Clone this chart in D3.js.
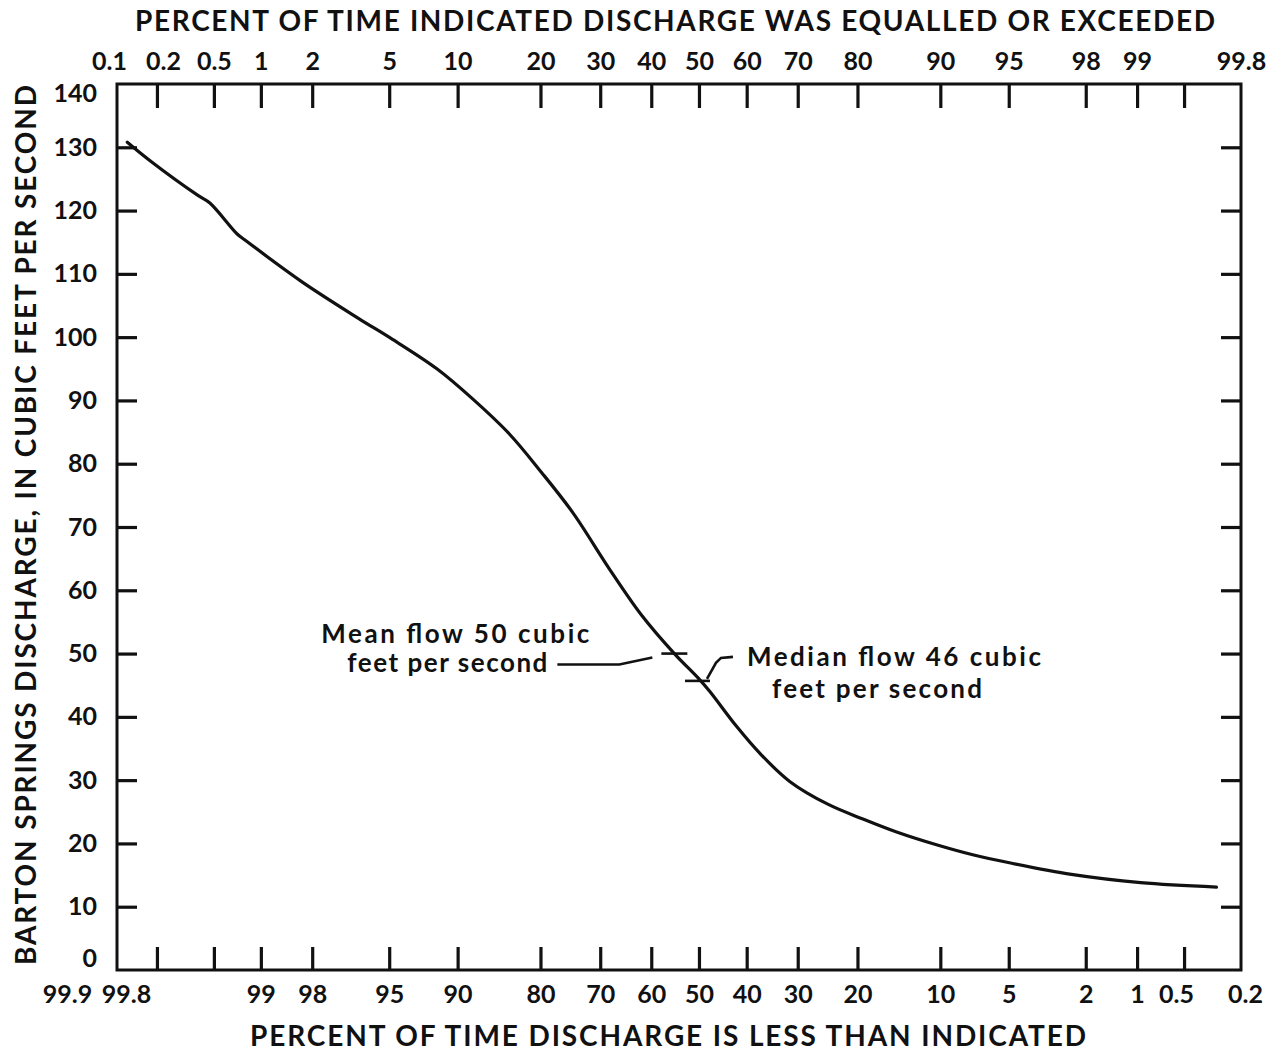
<!DOCTYPE html>
<html>
<head>
<meta charset="utf-8">
<script src="https://cdn.jsdelivr.net/npm/d3@7"></script>
<style>
  html, body { margin: 0; padding: 0; background: #fff; }
  svg { display: block; }
  text { font-family: Lato, "Liberation Sans", sans-serif; font-weight: 700; fill: #111; }
</style>
</head>
<body>
<svg id="chart" width="1277" height="1053"></svg>
<script>
// Flow-duration data, Barton Springs: percent of time exceeded and discharge (cfs)
const exceedPct = [0.12, 0.18, 0.39, 0.47, 0.71, 0.8, 1.76, 3.56, 5.1, 8.2, 11.5, 15.7, 20.1, 25.2, 31.7, 38.0, 44.8,
                   50, 52.3, 57.9, 62.6, 68.5, 75.3, 80.7, 85.3, 89.8, 92.7, 95.1, 97.6, 99.05, 99.7];
const dischargeCfs = [130.8, 127.8, 122.4, 121.2, 116.3, 115.3, 108.7, 102.9, 99.8, 95.0, 90.2, 84.7, 78.7, 72.2, 63.4, 56.1, 50.0,
                      46.0, 44.0, 38.5, 34.3, 29.8, 26.2, 23.9, 21.8, 19.7, 18.2, 16.9, 15.1, 13.8, 13.1];

// Probability-axis ticks (percent of time equalled or exceeded)
const tickPct = [0.2, 0.5, 1, 2, 5, 10, 20, 30, 40, 50, 60, 70, 80, 90, 95, 98, 99, 99.5];
const topLabelPct = [0.1, 0.2, 0.5, 1, 2, 5, 10, 20, 30, 40, 50, 60, 70, 80, 90, 95, 98, 99, 99.8];
const bottomLabelPct = [0.1, 0.2, 1, 2, 5, 10, 20, 30, 40, 50, 60, 70, 80, 90, 95, 98, 99, 99.5, 99.8];
const bottomLabelText = ["99.9", "99.8", "99", "98", "95", "90", "80", "70", "60", "50", "40", "30", "20", "10", "5", "2", "1", "0.5", "0.2"];
const yTicks = [10, 20, 30, 40, 50, 60, 70, 80, 90, 100, 110, 120, 130];
const yLabels = [0, 10, 20, 30, 40, 50, 60, 70, 80, 90, 100, 110, 120, 130, 140];

// Reference flows
const meanFlow = 50, meanPct = 44.8;
const medianFlow = 46, medianPct = 50;

// Inverse standard normal CDF (Acklam) for the probability scale
function probit(p) {
  const a = [-3.969683028665376e+01, 2.209460984245205e+02, -2.759285104469687e+02, 1.383577518672690e+02, -3.066479806614716e+01, 2.506628277459239e+00];
  const b = [-5.447609879822406e+01, 1.615858368580409e+02, -1.556989798598866e+02, 6.680131188771972e+01, -1.328068155288572e+01];
  const c = [-7.784894002430293e-03, -3.223964580411365e-01, -2.400758277161838e+00, -2.549732539343734e+00, 4.374664141464968e+00, 2.938163982698783e+00];
  const d = [7.784695709041462e-03, 3.224671290700398e-01, 2.445134137142996e+00, 3.754408661907416e+00];
  const pl = 0.02425;
  if (p < pl) {
    const q = Math.sqrt(-2 * Math.log(p));
    return (((((c[0]*q+c[1])*q+c[2])*q+c[3])*q+c[4])*q+c[5]) / ((((d[0]*q+d[1])*q+d[2])*q+d[3])*q+1);
  }
  if (p > 1 - pl) {
    const q = Math.sqrt(-2 * Math.log(1 - p));
    return -(((((c[0]*q+c[1])*q+c[2])*q+c[3])*q+c[4])*q+c[5]) / ((((d[0]*q+d[1])*q+d[2])*q+d[3])*q+1);
  }
  const q = p - 0.5, r = q * q;
  return (((((a[0]*r+a[1])*r+a[2])*r+a[3])*r+a[4])*r+a[5])*q / (((((b[0]*r+b[1])*r+b[2])*r+b[3])*r+b[4])*r+1);
}
const z = pct => probit(pct / 100);

const plotLeft = 117, plotRight = 1241, plotTop = 84, plotBottom = 970;
const svg = d3.select("#chart");

const xz = d3.scaleLinear().domain([z(0.1), z(99.8)]).range([plotLeft, plotRight]);
const x = pct => xz(z(pct));
const y = d3.scaleLinear().domain([0, 140]).range([plotBottom, plotTop]);

const ink = "#111";
const labelFont = "Lato, 'Liberation Sans', sans-serif";

// Frame
svg.append("rect")
  .attr("x", plotLeft).attr("y", plotTop).attr("width", plotRight - plotLeft).attr("height", plotBottom - plotTop)
  .attr("fill", "none").attr("stroke", ink).attr("stroke-width", 3);

function styleTicks(g) {
  g.select(".domain").remove();
  g.selectAll(".tick line").attr("stroke", ink).attr("stroke-width", 3.2);
}
function styleLabels(g, size) {
  g.select(".domain").remove();
  g.selectAll(".tick line").remove();
  g.selectAll(".tick text").attr("fill", ink).style("font-size", size + "px")
    .style("font-family", labelFont).style("font-weight", 700);
}

// Top and bottom tick marks, pointing into the plot
svg.append("g").attr("transform", `translate(0,${plotTop})`)
  .call(d3.axisTop(xz).tickValues(tickPct.map(z)).tickSize(-24).tickFormat(""))
  .call(styleTicks);
svg.append("g").attr("transform", `translate(0,${plotBottom})`)
  .call(d3.axisBottom(xz).tickValues(tickPct.map(z)).tickSize(-23).tickFormat(""))
  .call(styleTicks);

// Left and right discharge ticks
svg.append("g").attr("transform", `translate(${plotLeft},0)`)
  .call(d3.axisLeft(y).tickValues(yTicks).tickSize(-20).tickFormat(""))
  .call(styleTicks);
svg.append("g").attr("transform", `translate(${plotRight},0)`)
  .call(d3.axisRight(y).tickValues(yTicks).tickSize(-20).tickFormat(""))
  .call(styleTicks);

// Tick labels
const topLab = svg.append("g").attr("transform", `translate(0,${plotTop})`)
  .call(d3.axisTop(xz).tickValues(topLabelPct.map(z)).tickSize(0).tickPadding(14)
        .tickFormat((v, i) => String(topLabelPct[i])))
  .call(styleLabels, 25);
topLab.selectAll(".tick text").attr("dx", (d, i) => i === 0 ? -8 : (i === 1 ? 6 : 0));

const botLab = svg.append("g").attr("transform", `translate(0,${plotBottom})`)
  .call(d3.axisBottom(xz).tickValues(bottomLabelPct.map(z)).tickSize(0).tickPadding(15)
        .tickFormat((v, i) => bottomLabelText[i]))
  .call(styleLabels, 25);
botLab.selectAll(".tick text").attr("dx", (d, i) => i === 0 ? -50 : (i === 1 ? -31 : (i === 17 ? -8 : (i === 18 ? 4 : 0))));

svg.append("g").attr("transform", `translate(${plotLeft},0)`)
  .call(d3.axisLeft(y).tickValues(yLabels).tickSize(0).tickPadding(20).tickFormat(d3.format("d")))
  .call(styleLabels, 25)
  .selectAll(".tick text").attr("dy", (d) => d === 140 ? "0.7em" : (d === 0 ? "-0.15em" : "0.32em"));

// Duration curve
const pts = exceedPct.map((p, i) => ({p, q: dischargeCfs[i]}));
const line = d3.line().x(d => x(d.p)).y(d => y(d.q)).curve(d3.curveCatmullRom.alpha(0.5));
svg.append("path").datum(pts)
  .attr("d", line).attr("fill", "none").attr("stroke", ink).attr("stroke-width", 3.2)
  .attr("stroke-linejoin", "round").attr("stroke-linecap", "round");

// Mean and median markers with leaders
const mx = x(meanPct), my = y(meanFlow);
const dx = x(medianPct), dy = y(medianFlow);
const ann = svg.append("g").attr("stroke", ink).attr("fill", "none").attr("stroke-width", 2.6);
ann.append("line").attr("x1", mx - 13).attr("x2", mx + 13).attr("y1", my).attr("y2", my);
ann.append("line").attr("x1", dx - 14).attr("x2", dx + 11).attr("y1", dy + 2).attr("y2", dy + 2);
ann.append("path").attr("d", d3.line()([[mx - 117, my + 11], [mx - 55, my + 11], [mx - 22, my + 4]]));
ann.append("path").attr("d", d3.line()([[dx + 8, dy], [dx + 17, dy - 16], [dx + 22, dy - 21], [dx + 34, dy - 22]]));

const annText = svg.append("g").style("font-size", "26px");
annText.append("text").attr("x", mx - 353).attr("y", my - 11).attr("textLength", 268).attr("lengthAdjust", "spacing").text("Mean flow 50 cubic");
annText.append("text").attr("x", mx - 327).attr("y", my + 18).attr("textLength", 200).attr("lengthAdjust", "spacing").text("feet per second");
annText.append("text").attr("x", dx + 48).attr("y", dy - 13).attr("textLength", 294).attr("lengthAdjust", "spacing").text("Median flow 46 cubic");
annText.append("text").attr("x", dx + 73).attr("y", dy + 19).attr("textLength", 210).attr("lengthAdjust", "spacing").text("feet per second");

// Axis titles
svg.append("text").attr("x", 675).attr("y", 31).attr("text-anchor", "middle")
  .attr("textLength", 1080).attr("lengthAdjust", "spacing").style("font-size", "28px")
  .text("PERCENT OF TIME INDICATED DISCHARGE WAS EQUALLED OR EXCEEDED");
svg.append("text").attr("x", 668).attr("y", 1046).attr("text-anchor", "middle")
  .attr("textLength", 836).attr("lengthAdjust", "spacing").style("font-size", "28px")
  .text("PERCENT OF TIME DISCHARGE IS LESS THAN INDICATED");
svg.append("text").attr("transform", "translate(36,525) rotate(-90)").attr("text-anchor", "middle")
  .attr("textLength", 880).attr("lengthAdjust", "spacing").style("font-size", "28px")
  .text("BARTON SPRINGS DISCHARGE, IN CUBIC FEET PER SECOND");
</script>
</body>
</html>
